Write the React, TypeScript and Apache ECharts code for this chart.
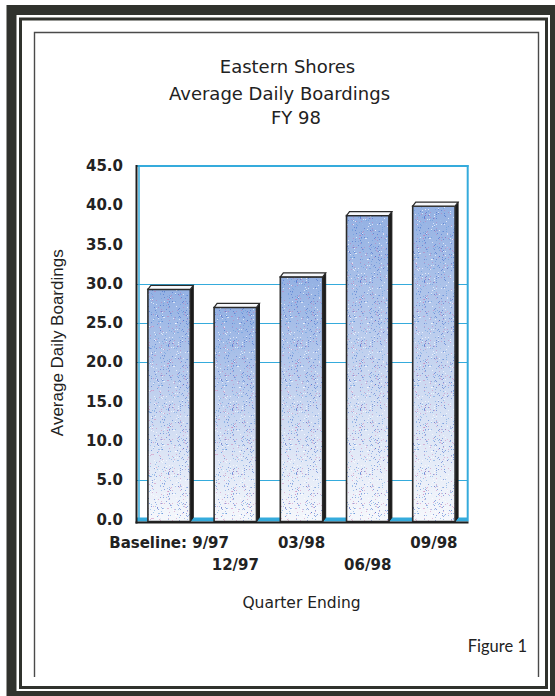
import React, { useEffect, useRef } from 'react';
import * as echarts from 'echarts';

// Quarterly ridership, FY 98
const QUARTERS = ['Baseline: 9/97', '12/97', '03/98', '06/98', '09/98'];
const BOARDINGS = [29.8, 27.5, 31.4, 39.2, 40.4];
const TITLE_LINES = ['Eastern Shores', 'Average Daily Boardings', 'FY 98'];
const Y_MIN = 0;
const Y_MAX = 45;
const Y_STEP = 5;
// wall rules that are printed on the back plane
const WALL_LINES = [5, 20, 25, 30];

const W = 555;
const H = 696;
const GRID = { left: 136, top: 166, width: 331, height: 353.5 };
const GRID_RIGHT = GRID.left + GRID.width;
const GRID_BOTTOM = GRID.top + GRID.height;

// depth of the pseudo-3D bars
const DX = 3;
const DY = 4;
const BAR_RATIO = 0.64;

const CYAN = '#35abdc';
const INK = '#222222';
const FRAME = '#30322d';

// small stipple tile laid over the bar faces (printed-screen look)
function makeStipple(): HTMLCanvasElement {
  const size = 64;
  const c = document.createElement('canvas');
  c.width = size;
  c.height = size;
  const ctx = c.getContext('2d');
  if (!ctx) return c;
  let seed = 1234567;
  const next = () => {
    seed = (seed * 1103515245 + 12345) % 2147483648;
    return seed / 2147483648;
  };
  const inks = [
    'rgba(60, 100, 200, 0.55)',
    'rgba(200, 110, 170, 0.45)',
    'rgba(255, 255, 255, 0.65)',
    'rgba(90, 150, 220, 0.5)',
  ];
  for (let i = 0; i < 520; i++) {
    const x = Math.floor(next() * size);
    const y = Math.floor(next() * size);
    ctx.fillStyle = inks[Math.floor(next() * inks.length)];
    ctx.fillRect(x, y, 1, 1);
  }
  return c;
}

export default function App() {
  const ref = useRef<HTMLDivElement>(null);

  useEffect(() => {
    if (!ref.current) return;
    const chart = echarts.init(ref.current, undefined, { renderer: 'svg' });

    const barFill = new echarts.graphic.LinearGradient(0, 0, 0, 1, [
      { offset: 0, color: '#94b1e3' },
      { offset: 0.35, color: '#b6c9ec' },
      { offset: 0.7, color: '#dbe4f5' },
      { offset: 1, color: '#f6f8fc' },
    ]);
    const stipple = { image: makeStipple(), repeat: 'repeat' };

    const renderBar = (params: any, api: any) => {
      const idx = api.value(0);
      const val = api.value(1);
      const top = api.coord([idx, val]);
      const base = api.coord([idx, 0]);
      const band = api.size([1, 0])[0];
      const w = band * BAR_RATIO;
      const x0 = top[0] - w / 2;
      const x1 = x0 + w;
      const yf = top[1] + DY;
      const yb = base[1] + 2;
      return {
        type: 'group',
        children: [
          {
            type: 'polygon',
            shape: {
              points: [
                [x1, yf],
                [x1 + DX, yf - DY],
                [x1 + DX, yb - DY],
                [x1, yb],
              ],
            },
            style: { fill: '#1c1c1c', stroke: '#1c1c1c', lineWidth: 1 },
          },
          {
            type: 'rect',
            shape: { x: x0, y: yf, width: w, height: yb - yf },
            style: { fill: barFill },
          },
          {
            type: 'rect',
            shape: { x: x0, y: yf, width: w, height: yb - yf },
            style: { fill: stipple, stroke: '#2b2b2b', lineWidth: 1.6 },
          },
          {
            type: 'polygon',
            shape: {
              points: [
                [x0, yf],
                [x1, yf],
                [x1 + DX, yf - DY],
                [x0 + DX, yf - DY],
              ],
            },
            style: { fill: '#f7f8fb', stroke: '#2b2b2b', lineWidth: 1.2 },
          },
        ],
      };
    };

    const titleStyle = {
      fontFamily: 'DejaVu Sans',
      fontSize: 18,
      fontWeight: 'normal' as const,
      color: INK,
    };

    const option: any = {
      animation: false,
      backgroundColor: '#ffffff',
      title: [
        { text: TITLE_LINES[0], left: 287.5, top: 57, textAlign: 'center', padding: 0, textStyle: titleStyle },
        { text: TITLE_LINES[1], left: 279.5, top: 84, textAlign: 'center', padding: 0, textStyle: titleStyle },
        { text: TITLE_LINES[2], left: 296, top: 108, textAlign: 'center', padding: 0, textStyle: titleStyle },
      ],
      grid: {
        left: GRID.left,
        top: GRID.top,
        width: GRID.width,
        height: GRID.height,
        containLabel: false,
      },
      xAxis: {
        type: 'category',
        data: QUARTERS,
        boundaryGap: true,
        axisLine: { show: false },
        axisTick: { show: false },
        splitLine: { show: false },
        axisLabel: {
          interval: 0,
          margin: 12,
          fontFamily: 'DejaVu Sans',
          fontWeight: 'bold',
          fontSize: 15,
          lineHeight: 22,
          color: INK,
          formatter: (v: string, i: number) => (i % 2 === 1 ? '\n' + v : v),
        },
        name: 'Quarter Ending',
        nameLocation: 'middle',
        nameGap: 75,
        nameTextStyle: { fontFamily: 'DejaVu Sans', fontSize: 15.5, color: INK },
      },
      yAxis: {
        type: 'value',
        min: Y_MIN,
        max: Y_MAX,
        interval: Y_STEP,
        axisLine: { show: false },
        axisTick: { show: false },
        splitLine: { show: false },
        axisLabel: {
          margin: 13,
          fontFamily: 'DejaVu Sans',
          fontWeight: 'bold',
          fontSize: 15,
          color: INK,
          formatter: (v: number) => v.toFixed(1),
        },
        name: 'Average Daily Boardings',
        nameLocation: 'middle',
        nameGap: 70,
        nameRotate: 90,
        nameTextStyle: { fontFamily: 'Liberation Sans', fontSize: 17, color: INK },
      },
      series: [
        {
          type: 'custom',
          z: 3,
          data: BOARDINGS.map((v, i) => [i, v]),
          renderItem: renderBar,
          markLine: {
            z: 1,
            silent: true,
            symbol: 'none',
            label: { show: false },
            lineStyle: { color: CYAN, width: 1.2, type: 'solid' },
            data: WALL_LINES.map((v) => ({ yAxis: v })),
          },
        },
      ],
      graphic: [
        // outer heavy frame
        {
          type: 'rect',
          z: 0,
          shape: { x: 11.5, y: 10, width: 555 - 11.5, height: 696 - 10 },
          style: { fill: 'none', stroke: FRAME, lineWidth: 10 },
        },
        // inner rule of the frame
        {
          type: 'rect',
          z: 0,
          shape: { x: 20.5, y: 19, width: 546.5 - 20.5, height: 687.5 - 19 },
          style: { fill: 'none', stroke: FRAME, lineWidth: 3 },
        },
        // thin page rule
        {
          type: 'polyline',
          z: 0,
          shape: { points: [[34.5, 677], [34.5, 32.5], [538.5, 32.5], [538.5, 677]] },
          style: { fill: 'none', stroke: '#4a4a4a', lineWidth: 1.4 },
        },
        // floor of the plot
        {
          type: 'rect',
          z: 0,
          shape: { x: GRID.left + 1, y: GRID_BOTTOM - 2, width: GRID.width - 1, height: DY },
          style: { fill: CYAN },
        },
        // back wall edges
        {
          type: 'line',
          z: 0,
          shape: { x1: GRID.left + 3, y1: GRID.top, x2: GRID.left + 3, y2: GRID_BOTTOM - 1 },
          style: { stroke: CYAN, lineWidth: 1.5 },
        },
        {
          type: 'line',
          z: 0,
          shape: { x1: GRID.left + 1, y1: GRID.top, x2: GRID_RIGHT + 1.5, y2: GRID.top },
          style: { stroke: CYAN, lineWidth: 2 },
        },
        {
          type: 'line',
          z: 0,
          shape: { x1: GRID_RIGHT + 0.7, y1: GRID.top - 1, x2: GRID_RIGHT + 0.7, y2: GRID_BOTTOM + 2 },
          style: { stroke: CYAN, lineWidth: 2 },
        },
        // dark axis lines
        {
          type: 'line',
          z: 10,
          shape: { x1: GRID.left - 0.5, y1: GRID_BOTTOM + 3, x2: GRID_RIGHT + 1.5, y2: GRID_BOTTOM + 3 },
          style: { stroke: '#1e1e1e', lineWidth: 2 },
        },
        {
          type: 'line',
          z: 10,
          shape: { x1: GRID.left + 0.5, y1: GRID.top - 1, x2: GRID.left + 0.5, y2: GRID_BOTTOM + 4 },
          style: { stroke: '#1e1e1e', lineWidth: 2 },
        },
        {
          type: 'text',
          z: 10,
          x: 527,
          y: 646,
          style: {
            text: 'Figure 1',
            align: 'right',
            verticalAlign: 'middle',
            fontFamily: 'Lato',
            fontSize: 16.5,
            fill: INK,
          },
        },
      ],
    };

    chart.setOption(option);
    return () => chart.dispose();
  }, []);

  return (
    <div
      ref={ref}
      style={{ position: 'absolute', left: 0, top: 0, width: W, height: H, background: '#fff' }}
    />
  );
}
